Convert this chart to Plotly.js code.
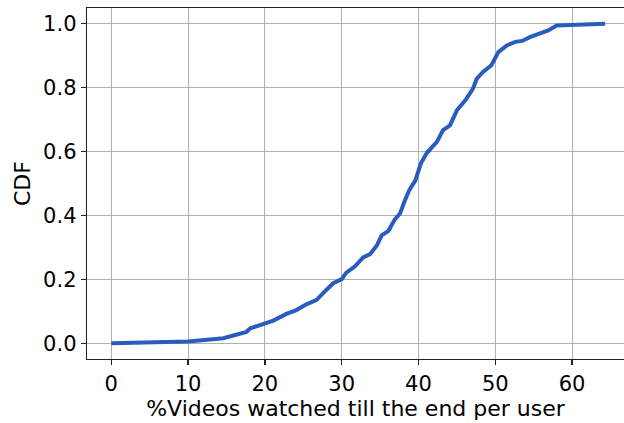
<!DOCTYPE html>
<html>
<head>
<meta charset="utf-8">
<script src="https://cdn.plot.ly/plotly-3.0.1.min.js"></script>
<style>html,body{margin:0;padding:0;background:#fff;}#chart{width:624px;height:423px;}</style>
</head>
<body>
<div id="chart"></div>
<script>
// % videos watched till the end per user (x) and CDF (y)
const watchedPct = [0, 10, 14.6, 16.3, 17.6, 18.1, 20, 21.1, 22.8, 24.1, 25.4, 26.7, 28.0, 28.9, 30, 30.6, 31.7, 32.8, 33.7, 34.6, 35.2, 36.1, 36.9, 37.6, 38.2, 38.8, 39.6, 40.3, 41.1, 42.4, 43.2, 44.1, 45.0, 46.1, 47.1, 47.6, 48.4, 49.5, 50.4, 51.5, 52.6, 53.5, 54.5, 55.8, 56.9, 58.0, 60.2, 64.3];
const cdf = [0, 0.006, 0.016, 0.026, 0.036, 0.047, 0.064, 0.071, 0.092, 0.104, 0.122, 0.135, 0.167, 0.188, 0.201, 0.221, 0.240, 0.269, 0.279, 0.307, 0.338, 0.352, 0.387, 0.406, 0.445, 0.479, 0.51, 0.5625, 0.596, 0.63, 0.667, 0.682, 0.729, 0.76, 0.797, 0.828, 0.849, 0.87, 0.911, 0.932, 0.943, 0.946, 0.958, 0.969, 0.979, 0.994, 0.996, 1.0];
const xTicks = [0, 10, 20, 30, 40, 50, 60];
const yTicks = [0.0, 0.2, 0.4, 0.6, 0.8, 1.0];
const yTickLabels = ["0.0", "0.2", "0.4", "0.6", "0.8", "1.0"];

const font = "DejaVu Sans, sans-serif";
Plotly.newPlot("chart", [{
  x: watchedPct, y: cdf, type: "scatter", mode: "lines",
  line: {color: "#2a5cbf", width: 4}
}], {
  width: 624, height: 423,
  margin: {l: 87, r: 0, t: 8, b: 64},
  paper_bgcolor: "#fff", plot_bgcolor: "#fff",
  showlegend: false,
  font: {family: font, color: "#000", size: 21},
  xaxis: {
    range: [-3.16, 66.76], tickvals: xTicks, ticktext: xTicks.map(String),
    showgrid: true, gridcolor: "#b0b0b0", gridwidth: 1,
    showline: true, linecolor: "#222", linewidth: 1.3, mirror: true,
    ticks: "outside", ticklen: 5, tickcolor: "#222", tickwidth: 1.3,
    zeroline: false, tickfont: {size: 21},
    title: {text: "%Videos watched till the end per user", font: {size: 22}, standoff: 2}
  },
  yaxis: {
    range: [-0.049, 1.049], tickvals: yTicks, ticktext: yTickLabels,
    showgrid: true, gridcolor: "#b0b0b0", gridwidth: 1,
    showline: true, linecolor: "#222", linewidth: 1.3, mirror: false,
    ticks: "outside", ticklen: 5, tickcolor: "#222", tickwidth: 1.3,
    zeroline: false, tickfont: {size: 21},
    title: {text: "CDF", font: {size: 22}, standoff: 6}
  }
}, {displayModeBar: false, staticPlot: true});
</script>
</body>
</html>
